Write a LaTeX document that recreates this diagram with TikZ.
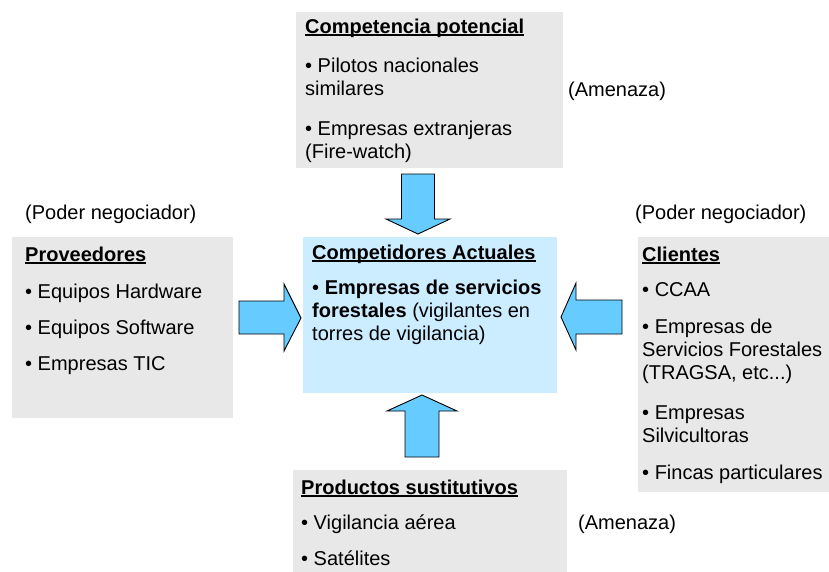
\documentclass[tikz,border=0pt]{standalone}
\usepackage{fontspec}
\setmainfont{Liberation Sans}
\definecolor{panelgray}{HTML}{E8E8E8}
\definecolor{corefill}{HTML}{CCECFF}
\definecolor{arrowfill}{HTML}{66CCFF}
% bold heading with a thick underline
\newcommand\headline[1]{\setbox0\hbox{\bfseries #1}\leavevmode\rlap{\rule[-2.6pt]{\wd0}{1.6pt}}\box0}

\begin{document}
\begin{tikzpicture}[x=1pt,y=-1pt,
  panel/.style={fill=panelgray, draw=none, inner sep=0pt, outer sep=0pt, anchor=north west},
  core/.style={panel, fill=corefill},
  body/.style={font=\fontsize{20}{23}\selectfont, align=left, inner sep=0pt, anchor=base west},
  force/.style={fill=arrowfill, draw=black, line width=0.9pt, line join=miter}]
\useasboundingbox (0,0) rectangle (829,571);
\fill[white] (0,0) rectangle (829,571);

% the five panels
\node[panel, minimum width=267pt, minimum height=156pt] (threat) at (296,12) {};
\node[panel, minimum width=221pt, minimum height=181pt] (suppliers) at (12,237) {};
\node[core,  minimum width=254pt, minimum height=156pt] (rivals) at (303,237) {};
\node[panel, minimum width=200pt, minimum height=255pt] (clients) at (638,237) {};
\node[panel, minimum width=274pt, minimum height=110pt] (substitutes) at (293,470) {};

% block arrows pointing at the central panel
\draw[force] (401.5,174) -- (434.5,174) -- (434.5,219) -- (450,219) -- (418,234)
  -- (386,219) -- (401.5,219) -- cycle;
\draw[force] (239,301) -- (284,301) -- (284,284) -- (301,318) -- (284,351)
  -- (284,334) -- (239,334) -- cycle;
\draw[force] (622,300) -- (576,300) -- (576,283) -- (561,317) -- (576,350)
  -- (576,334) -- (622,334) -- cycle;
\draw[force] (405,457) -- (439,457) -- (439,411) -- (457,411) -- (422,395)
  -- (387,411) -- (405,411) -- cycle;

% panel texts (each node sits on the baseline of its last line)
\node[body] (threat-text) at (305,158) {\headline{Competencia potencial}\\[16pt]
  • Pilotos nacionales\\ similares\\[17pt]
  • Empresas extranjeras\\ (Fire-watch)};
\node[body] (suppliers-text) at (25,370) {\headline{Proveedores}\\[14pt]
  • Equipos Hardware\\[13pt]
  • Equipos Software\\[13pt]
  • Empresas TIC};
\node[body] (rivals-text) at (312,340) {\headline{Competidores Actuales}\\[12pt]
  • \textbf{Empresas de servicios}\\ \textbf{forestales} (vigilantes en\\ torres de vigilancia)};
\node[body] (clients-text) at (642,479) {\headline{Clientes}\\[12pt]
  • CCAA\\[14pt]
  • Empresas de\\ Servicios Forestales\\ (TRAGSA, etc...)\\[17pt]
  • Empresas\\ Silvicultoras\\[14pt]
  • Fincas particulares};
\node[body] (substitutes-text) at (301,565) {\headline{Productos sustitutivos}\\[12pt]
  • Vigilancia aérea\\[13pt]
  • Satélites};

% side notes
\node[body] (threat-note) at (568,96) {(Amenaza)};
\node[body] (substitutes-note) at (578,529) {(Amenaza)};
\node[body] (suppliers-note) at (25,219) {(Poder negociador)};
\node[body] (clients-note) at (635,219) {(Poder negociador)};
\end{tikzpicture}
\end{document}
